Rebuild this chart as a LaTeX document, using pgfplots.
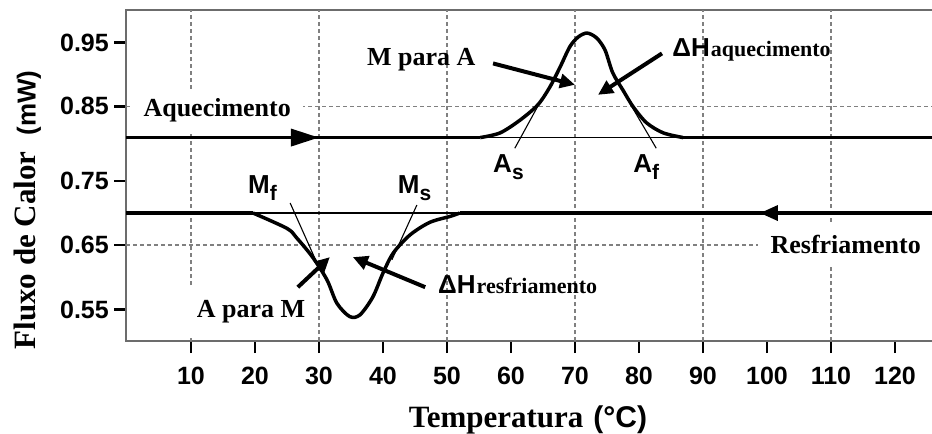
\documentclass[border=0pt]{standalone}
\usepackage{fontspec}
\setmainfont{Liberation Serif}
\setsansfont{Liberation Sans}
\usepackage{pgfplots}
\pgfplotsset{compat=1.18}
\usetikzlibrary{arrows.meta}
\newcommand{\fs}[1]{\fontsize{#1bp}{#1bp}\selectfont}
\newcommand{\lab}[2]{{\sffamily\bfseries\fs{26}#1\raisebox{-7bp}{\fs{21}#2}}}
\begin{document}
\begin{tikzpicture}
\path[use as bounding box] (-126bp,-93bp) rectangle (806bp,341bp);
\begin{axis}[
  at={(0,0)}, anchor=south west,
  scale only axis, width=808bp, height=331bp,
  xmin=-0.15, xmax=126.1, ymin=0.5034, ymax=0.999,
  clip=false,
  axis line style={draw=gray!85!black, line width=1.4bp},
  tick pos=left, tick align=outside,
  major tick length=12bp,
  tick style={black, line width=2.8bp},
  xtick={10,20,...,120},
  xticklabels={10,20,30,40,50,60,70,80,90,100,110,120},
  ytick={0.55,0.647,0.743,0.855,0.95},
  yticklabels={0.55,0.65,0.75,0.85,0.95},
  ticklabel style={font=\sffamily\bfseries\fs{25}},
  xticklabel style={inner sep=0pt, yshift=-14bp},
  yticklabel style={inner sep=0pt, xshift=-5bp},
  /pgf/number format/assume math mode=true,
  extra x ticks={10,30,50,70,90,110},
  extra x tick labels={},
  extra x tick style={grid=major, major tick length=0pt},
  extra y ticks={0.647,0.855},
  extra y tick labels={},
  extra y tick style={grid=major, major tick length=0pt},
  major grid style={gray, line width=1.3bp, dash pattern=on 4bp off 3bp},
  xlabel={\bfseries\fs{31}Temperatura\hspace{10bp}{\sffamily\fs{30}(°C)}},
  xlabel style={at={(axis description cs:0.4975,-0.2628)}, anchor=base, inner sep=0pt},
  ylabel={\bfseries\fs{31}Fluxo de Calor\hspace{16bp}{\sffamily\fs{26}(mW)}},
  ylabel style={at={(axis description cs:-0.1219,0.3958)}, anchor=center, inner sep=0pt},
]
% labels with white background
\node[fill=white, anchor=base, inner xsep=12bp, minimum height=44bp, font=\bfseries\fs{26}] at (axis cs:14.1,0.839) {Aquecimento};
\node[fill=white, anchor=base, inner xsep=8bp, minimum height=52bp, font=\bfseries\fs{26}] at (axis cs:19.4,0.538) {A para M};
\node[fill=white, anchor=base, inner xsep=13bp, minimum height=44bp, font=\bfseries\fs{26}] at (axis cs:112.3,0.635) {Resfriamento};
\node[anchor=base, inner sep=0pt, font=\bfseries\fs{26}] at (axis cs:46.0,0.9166) {M para A};

% heating curve
\addplot[black, line width=3.5bp, -{Triangle[length=28bp,width=17bp]}] coordinates {(-0.15,0.808) (30,0.808)};
\addplot[black, line width=3.5bp] coordinates {(29,0.808) (55.2,0.808)};
\addplot[black, line width=3.5bp, smooth, tension=0.5] coordinates {
 (55.2,0.808) (58.3,0.815) (61.4,0.834) (64.2,0.857) (66.1,0.884) (67.7,0.914)
 (69.2,0.944) (70.5,0.9585) (71.9,0.9645) (73.4,0.957) (74.7,0.939) (75.9,0.905)
 (77.5,0.879) (79.1,0.854) (81.2,0.830) (83.8,0.815) (86.9,0.808)};
\addplot[black, line width=3.5bp] coordinates {(86.9,0.808) (126.1,0.808)};
\addplot[black, line width=1.2bp] coordinates {(55.2,0.808) (86.9,0.808)};

% cooling curve
\addplot[black, line width=3.5bp, -{Triangle[length=18bp,width=15bp]}] coordinates {(126.1,0.695) (98.9,0.695)};
\addplot[black, line width=3.5bp] coordinates {(100,0.695) (52,0.695)};
\addplot[black, line width=3.5bp, smooth, tension=0.5] coordinates {
 (52,0.695) (50.5,0.690) (47.3,0.681) (44.2,0.662) (41.6,0.635) (40,0.605)
 (38.4,0.569) (36.4,0.5425) (34.8,0.540) (32.8,0.560) (31.25,0.595) (29,0.629)
 (26.5,0.658) (25,0.672) (19.7,0.695)};
\addplot[black, line width=3.5bp] coordinates {(19.7,0.695) (-0.15,0.695)};
\addplot[black, line width=1.2bp] coordinates {(19.7,0.695) (52,0.695)};

% tangent lines
\addplot[black, line width=1.1bp] coordinates {(60.6,0.792) (64.6,0.862)};
\addplot[black, line width=1.1bp] coordinates {(82.7,0.792) (78.6,0.859)};
\addplot[black, line width=1.1bp] coordinates {(25.5,0.710) (29.7,0.620)};
\addplot[black, line width=1.1bp] coordinates {(45.3,0.707) (41.4,0.625)};

% annotation arrows
\addplot[black, line width=4bp, -{Triangle[length=15bp,width=14bp]}] coordinates {(57.2,0.919) (70,0.887)};
\addplot[black, line width=4bp, -{Triangle[length=15bp,width=14bp]}] coordinates {(83.6,0.934) (73.6,0.872)};
\addplot[black, line width=4bp, -{Triangle[length=15bp,width=14bp]}] coordinates {(26.7,0.584) (31.7,0.629)};
\addplot[black, line width=4bp, -{Triangle[length=15bp,width=14bp]}] coordinates {(46.6,0.584) (35.3,0.629)};

% other labels
\node[anchor=base west, inner sep=0pt] at (axis cs:18.9,0.7235) {\lab{M}{f}};
\node[anchor=base west, inner sep=0pt] at (axis cs:42.3,0.7235) {\lab{M}{s}};
\node[anchor=base west, inner sep=0pt] at (axis cs:57.2,0.756) {\lab{A}{s}};
\node[anchor=base west, inner sep=0pt] at (axis cs:79.1,0.756) {\lab{A}{f}};
\node[anchor=base west, inner sep=0pt] at (axis cs:85.2,0.930) {{\sffamily\bfseries\fs{26}ΔH}\hspace{1bp}{\bfseries\fs{22}aquecimento}};
\node[anchor=base west, inner sep=0pt] at (axis cs:48.6,0.575) {{\sffamily\bfseries\fs{26}ΔH}\hspace{1bp}{\bfseries\fs{22}resfriamento}};
\end{axis}
\end{tikzpicture}
\end{document}
